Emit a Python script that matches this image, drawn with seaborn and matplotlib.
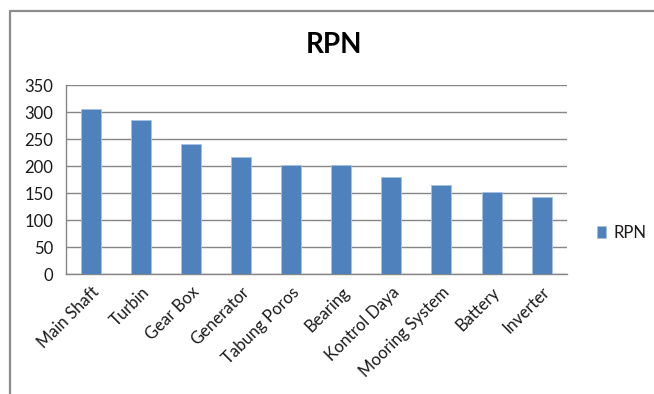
import matplotlib
matplotlib.use("Agg")
import matplotlib.pyplot as plt
from matplotlib.lines import Line2D
import seaborn as sns
import pandas as pd

# Risk priority numbers per component
komponen = ["Main Shaft", "Turbin", "Gear Box", "Generator", "Tabung Poros",
            "Bearing", "Kontrol Daya", "Mooring System", "Battery", "Inverter"]
rpn = [307, 285, 242, 218, 202, 202, 180, 165, 152, 143]
y_ticks = [0, 50, 100, 150, 200, 250, 300, 350]

df = pd.DataFrame({"Komponen": komponen, "RPN": rpn})

sns.set_theme(style="white")
plt.rcParams["font.family"] = ["Lato", "DejaVu Sans"]

bar_color = "#4F81BD"
grid_color = "#868686"
text_color = "#1a1a1a"
label_size = 12

fig = plt.figure(figsize=(6.54, 3.94), dpi=100)
fig.patch.set_facecolor("white")
ax = fig.add_axes([0.1005, 0.3038, 0.766, 0.4797])

sns.barplot(data=df, x="Komponen", y="RPN", color=bar_color, width=0.4,
            saturation=1, edgecolor="#a9c1e0", linewidth=0.6, ax=ax, zorder=3)

ax.set_xlim(-0.5, len(komponen) - 0.5)
ax.set_ylim(0, 350)
ax.set_yticks(y_ticks)
ax.set_xlabel("")
ax.set_ylabel("")

# horizontal gridlines
ax.yaxis.grid(True, color=grid_color, linewidth=1.0, zorder=0)
ax.xaxis.grid(False)
ax.set_axisbelow(True)

for side in ["top", "right"]:
    ax.spines[side].set_visible(False)
for side in ["left", "bottom"]:
    ax.spines[side].set_color(grid_color)
    ax.spines[side].set_linewidth(1.0)

# category ticks sit at the boundaries between bars
ax.set_xticks([i - 0.5 for i in range(len(komponen) + 1)], minor=True)
ax.tick_params(axis="x", which="major", length=0, pad=7)
ax.tick_params(axis="x", which="minor", length=4.5, width=1.0, color=grid_color, direction="out")
ax.tick_params(axis="y", length=5, width=1.0, color=grid_color, direction="out", pad=4,
               labelsize=label_size, labelcolor=text_color)
ax.set_xticks(range(len(komponen)))
ax.set_xticklabels(komponen, rotation=45, ha="right", rotation_mode="anchor",
                   fontsize=label_size, color=text_color)

handle = ax.patches[0]
leg = ax.legend([handle], ["RPN"], loc="center left", bbox_to_anchor=(1.03, 0.22),
                frameon=False, handlelength=0.55, handleheight=0.7, handletextpad=0.45,
                prop={"size": label_size})
for t in leg.get_texts():
    t.set_color(text_color)

fig.text(0.511, 0.887, "RPN", ha="center", va="center", fontsize=20,
         fontweight="bold", color="black")

# chart frame (top and left edges)
fig.add_artist(Line2D([0.016, 1.0], [0.973, 0.973], color="#8c8c8c", linewidth=1.6,
                      transform=fig.transFigure))
fig.add_artist(Line2D([0.016, 0.016], [0.0, 0.973], color="#8c8c8c", linewidth=1.6,
                      transform=fig.transFigure))

fig.savefig("out.png", dpi=100, facecolor="white")
